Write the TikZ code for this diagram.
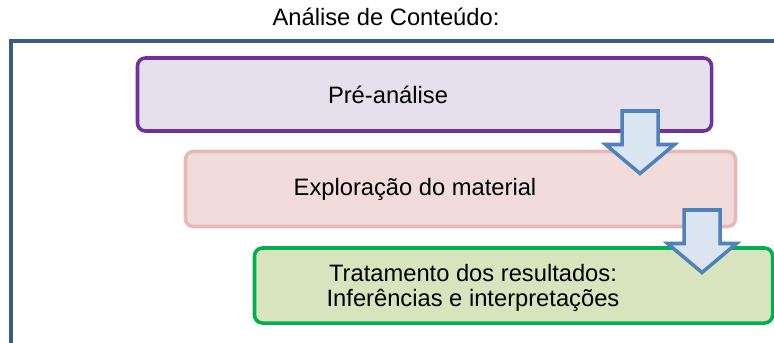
\documentclass[tikz,border=0pt]{standalone}
\usepackage{fontspec}
\setmainfont{Liberation Sans}
\usetikzlibrary{calc}
\definecolor{framebl}{RGB}{56,93,138}
\definecolor{preline}{RGB}{112,48,160}
\definecolor{prefill}{RGB}{229,224,236}
\definecolor{expline}{RGB}{230,185,184}
\definecolor{expfill}{RGB}{242,220,219}
\definecolor{tratline}{RGB}{0,176,80}
\definecolor{tratfill}{RGB}{215,228,189}
\definecolor{arrline}{RGB}{79,129,189}
\definecolor{arrfill}{RGB}{219,229,241}
\def\blockarrow(#1,#2){\draw[arrowbox] (#1-18,#2) -- (#1+18,#2) -- (#1+18,#2+33.5) -- (#1+34.5,#2+33.5) -- (#1,#2+62.5) -- (#1-34.5,#2+33.5) -- (#1-18,#2+33.5) -- cycle;}

\begin{document}
\begin{tikzpicture}[x=0.02cm,y=-0.02cm,
  stagebox/.style={draw,rounded corners=4.5pt,line width=2pt,inner sep=0pt},
  stagetext/.style={font=\fontsize{13.5}{14}\selectfont,align=center,inner sep=0pt},
  arrowbox/.style={draw=arrline,fill=arrfill,line width=2pt,line join=miter}]
			%%%%% START %%%%%
			\useasboundingbox (0,0) rectangle (774,342);
			
			\node[stagetext] (titulo) at (386,17) {Análise de Conteúdo:};
			\draw[framebl,line width=2.2pt] (11,350) -- (11,41) -- (790,41);
			
			\node[stagebox,draw=preline,fill=prefill,minimum width=574*0.02cm,minimum height=73*0.02cm] (pre) at (424.5,94.5) {};
			\node[stagebox,draw=expline,fill=expfill,minimum width=550*0.02cm,minimum height=75*0.02cm] (exp) at (460.5,189) {};
			\node[stagebox,draw=tratline,fill=tratfill,minimum width=518*0.02cm,minimum height=75*0.02cm] (trat) at (513.5,285.5) {};
			
			\node[stagetext] (pretxt) at (388,95) {Pré-análise};
			\node[stagetext] (exptxt) at (415,189) {Exploração do material};
			\node[stagetext] (trattxt) at (473,288) {Tratamento dos resultados:\\Inferências e interpretações};
			
			\blockarrow(640,111)
			\blockarrow(702,210)
			%%%%% END %%%%%
\end{tikzpicture}
\end{document}
